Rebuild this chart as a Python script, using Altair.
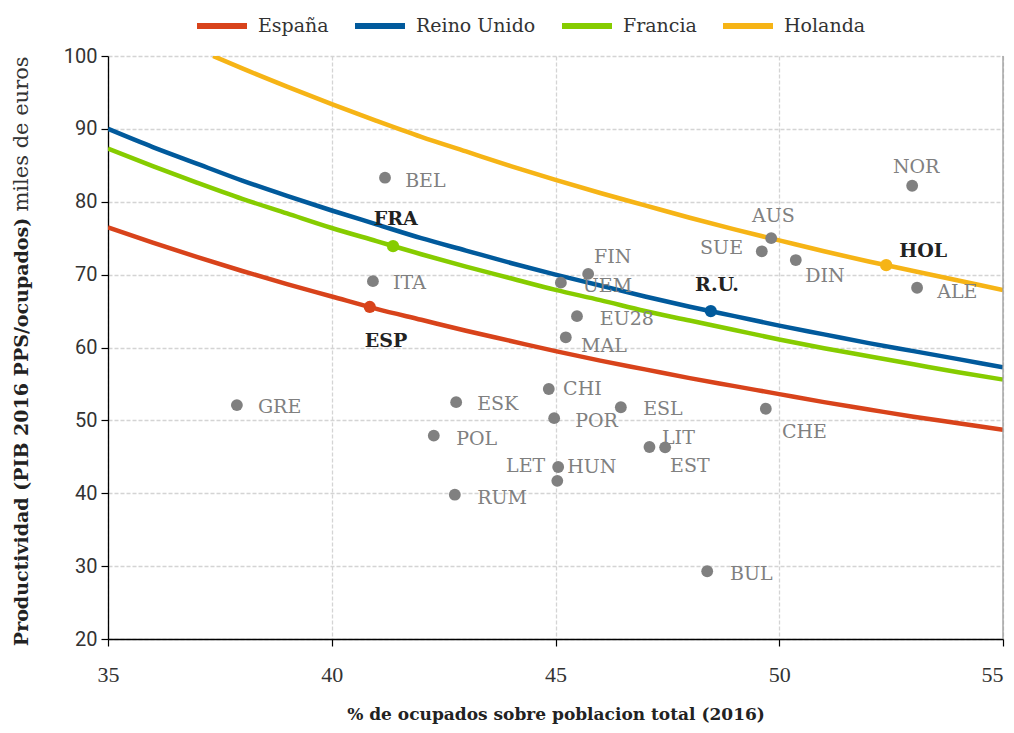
import altair as alt
import pandas as pd

# ---- iso-GDP curves (x = % ocupados, y = productividad)
curve_x = [35, 36, 37, 38, 39, 40, 41, 42, 43, 44, 45, 46, 47, 48, 49, 50, 51, 52, 53, 54, 55]
espana = [76.5, 74.4, 72.4, 70.5, 68.7, 67.0, 65.3, 63.8, 62.3, 60.9, 59.5, 58.2, 57.0, 55.8, 54.7, 53.6, 52.5, 51.5, 50.5, 49.6, 48.7]
reino_unido = [90.0, 87.5, 85.2, 82.9, 80.8, 78.8, 76.9, 75.0, 73.3, 71.6, 70.0, 68.5, 67.0, 65.6, 64.3, 63.0, 61.8, 60.6, 59.5, 58.4, 57.3]
francia = [87.3, 84.9, 82.6, 80.4, 78.4, 76.4, 74.6, 72.8, 71.1, 69.5, 67.9, 66.5, 65.0, 63.7, 62.4, 61.1, 59.9, 58.8, 57.7, 56.6, 55.6]
holanda_x = [37.35, 38, 39, 40, 41, 42, 43, 44, 45, 46, 47, 48, 49, 50, 51, 52, 53, 54, 55]
holanda = [100.0, 98.3, 95.8, 93.4, 91.1, 88.9, 86.9, 84.9, 83.0, 81.2, 79.5, 77.8, 76.2, 74.7, 73.2, 71.8, 70.5, 69.2, 67.9]

series_names = ["España", "Reino Unido", "Francia", "Holanda"]
series_colors = ["#d8431b", "#015a9c", "#86cc00", "#f6b416"]

# ---- countries (grey points)
countries = ["BEL", "ITA", "GRE", "ESK", "POL", "RUM", "CHI", "POR", "ESL", "LIT", "EST",
             "LET", "HUN", "BUL", "CHE", "MAL", "EU28", "UEM", "FIN", "SUE", "AUS", "DIN",
             "NOR", "ALE"]
country_x = [41.19, 40.92, 37.88, 42.78, 42.28, 42.75, 44.85, 44.97, 46.46, 47.45, 47.10,
             45.06, 45.04, 48.39, 49.70, 45.23, 45.48, 45.12, 45.73, 49.61, 49.82, 50.37,
             52.97, 53.08]
country_y = [83.3, 69.1, 52.1, 52.5, 47.9, 39.8, 54.3, 50.3, 51.8, 46.3, 46.35,
             43.6, 41.7, 29.3, 51.6, 61.4, 64.3, 68.9, 70.1, 73.2, 75.0, 72.0,
             82.2, 68.2]
label_x = [41.64, 41.37, 38.35, 43.25, 42.78, 43.25, 45.17, 45.44, 46.96, 47.38, 47.56,
           44.77, 45.26, 48.90, 50.06, 45.57, 45.99, 45.61, 45.86, 49.19, 49.39, 50.58,
           52.54, 53.53]
label_y = [82.85, 68.85, 51.84, 52.25, 47.45, 39.35, 54.3, 49.9, 51.56, 47.58, 43.74,
           43.74, 43.6, 28.92, 48.4, 60.2, 63.9, 68.44, 72.42, 73.65, 78.04, 69.81,
           84.77, 67.62]
label_align = ["left"] * 11 + ["right"] + ["left"] * 7 + ["right"] + ["left"] * 4

# ---- highlighted countries (on the curves)
hl_names = ["ESP", "FRA", "R.U.", "HOL"]
hl_x = [40.85, 41.37, 48.47, 52.39]
hl_y = [65.56, 73.9, 65.0, 71.3]
hl_series = ["España", "Francia", "Reino Unido", "Holanda"]
hl_label_x = [40.74, 40.94, 48.12, 52.68]
hl_label_y = [60.89, 77.63, 68.58, 73.24]

x_ticks = [35, 40, 45, 50, 55]
y_ticks = [20, 30, 40, 50, 60, 70, 80, 90, 100]

# ---- tables
rows = []
for name, xs, ys in [("España", curve_x, espana), ("Reino Unido", curve_x, reino_unido),
                     ("Francia", curve_x, francia), ("Holanda", holanda_x, holanda)]:
    for a, b in zip(xs, ys):
        rows.append({"x": a, "y": b, "serie": name})
lines_df = pd.DataFrame(rows)

pts_df = pd.DataFrame({"pais": countries, "x": country_x, "y": country_y,
                       "lx": label_x, "ly": label_y, "align": label_align})
hl_df = pd.DataFrame({"pais": hl_names, "x": hl_x, "y": hl_y, "serie": hl_series,
                      "lx": hl_label_x, "ly": hl_label_y})

SERIF = "DejaVu Serif"

xscale = alt.Scale(domain=[35, 55], nice=False, zero=False)
yscale = alt.Scale(domain=[20, 100], nice=False, zero=False)
color_scale = alt.Scale(domain=series_names, range=series_colors)

common_axis = dict(domainColor="#000000", domainWidth=1.3, tickColor="#000000", tickSize=7,
                   tickWidth=1.2, gridColor="#d4d4d4", gridDash=[4, 2], gridWidth=1.3,
                   labelFlush=False)

x_enc = alt.X("x:Q", scale=xscale,
              axis=alt.Axis(values=x_ticks, title="% de ocupados sobre poblacion total (2016)",
                            titleFont=SERIF, titleFontWeight="bold", titleFontSize=17,
                            titleColor="#222", titlePadding=21,
                            labelFont="Liberation Sans Narrow", labelFontSize=22,
                            labelColor="#333", labelPadding=18,
                            labelAlign={"condition": {"test": "datum.value >= 55", "value": "right"},
                                        "value": "center"},
                            **common_axis))
y_enc = alt.Y("y:Q", scale=yscale,
              axis=alt.Axis(values=y_ticks, title=None, labelFont="Roboto",
                            labelFontSize=20, labelColor="#333", labelPadding=4,
                            **common_axis))

lines = alt.Chart(lines_df).mark_line(strokeWidth=4.5, interpolate="monotone", clip=True).encode(
    x=x_enc, y=y_enc,
    color=alt.Color("serie:N", scale=color_scale, sort=series_names,
                    legend=alt.Legend(title=None, orient="none", direction="horizontal",
                                      legendX=86, legendY=-58, symbolType="stroke",
                                      symbolStrokeWidth=6, symbolSize=2500,
                                      labelFont=SERIF, labelFontSize=19, labelColor="#333",
                                      columnPadding=14, labelOffset=8)),
    detail="serie:N",
)

border = alt.Chart(pd.DataFrame({"b": [55]})).mark_rule(color="#9a9a9a", strokeWidth=1.3).encode(
    x=alt.X("b:Q", scale=xscale))

grey_pts = alt.Chart(pts_df).mark_circle(size=140, color="#808080", opacity=1).encode(
    x="x:Q", y="y:Q")

grey_lbl_left = alt.Chart(pts_df).transform_filter(alt.datum.align == "left").mark_text(
    align="left", baseline="middle", font=SERIF, fontSize=19, color="#808080").encode(
    x="lx:Q", y="ly:Q", text="pais:N")
grey_lbl_right = alt.Chart(pts_df).transform_filter(alt.datum.align == "right").mark_text(
    align="right", baseline="middle", font=SERIF, fontSize=19, color="#808080").encode(
    x="lx:Q", y="ly:Q", text="pais:N")

hl_pts = alt.Chart(hl_df).mark_circle(size=150, opacity=1).encode(
    x="x:Q", y="y:Q",
    color=alt.Color("serie:N", scale=color_scale, legend=None))

hl_lbl = alt.Chart(hl_df).mark_text(align="left", baseline="middle", font=SERIF,
                                    fontSize=19, fontWeight="bold", color="#222").encode(
    x="lx:Q", y="ly:Q", text="pais:N")

ytitle_bold = alt.Chart(pd.DataFrame({"t": ["Productividad (PIB 2016 PPS/ocupados)"]})).mark_text(
    angle=270, align="center", baseline="middle", font=SERIF, fontSize=19,
    fontWeight="bold", color="#222").encode(
    x=alt.value(-86), y=alt.value(376), text="t:N")
ytitle_norm = alt.Chart(pd.DataFrame({"t": ["miles de euros"]})).mark_text(
    angle=270, align="center", baseline="middle", font=SERIF, fontSize=21,
    color="#333").encode(
    x=alt.value(-86), y=alt.value(78), text="t:N")

chart = alt.layer(lines, border, grey_pts, grey_lbl_left, grey_lbl_right, hl_pts, hl_lbl,
                  ytitle_bold, ytitle_norm).properties(
    width=895, height=583,
    autosize=alt.AutoSizeParams(type="none"),
    padding={"left": 100, "top": 48, "right": 3, "bottom": 86},
).configure_view(
    stroke=None
)

chart.save("out.html", embed_options={"renderer": "svg", "actions": False})
